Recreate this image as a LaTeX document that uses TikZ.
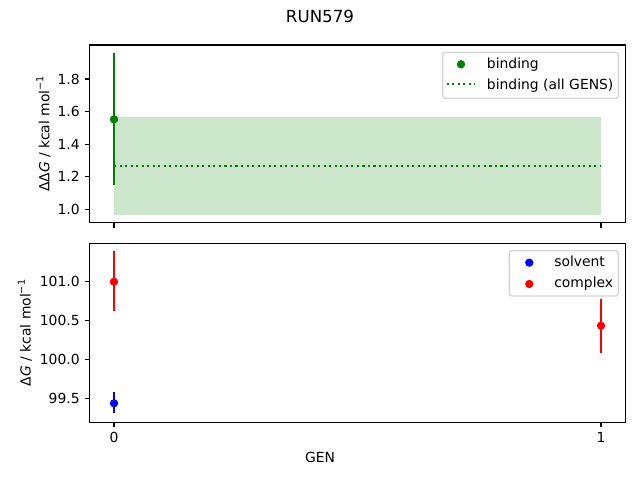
\documentclass[tikz,border=0pt]{standalone}
\usepackage{fontspec}
\setmainfont{DejaVu Sans}
\usepackage{tikz}
\definecolor{mplgreen}{HTML}{008000}
\definecolor{mplblue}{HTML}{0000FF}
\definecolor{mplred}{HTML}{FF0000}
\definecolor{legendedge}{HTML}{CCCCCC}
\newcommand{\perunit}{kcal mol\raisebox{0.42em}{\fontsize{7}{8}\selectfont −1}}
\tikzset{%
    axesframe/.style={line width=0.8pt, line join=miter},
    tickline/.style={line width=0.8pt},
    errbar/.style={line width=1.5pt, draw=#1},
    datadot/.style={fill=#1, draw=none},
    dottedline/.style={line width=1.5pt, draw=mplgreen, dash pattern=on 1.5pt off 2.475pt},
    legendbox/.style={draw=legendedge, fill=white, fill opacity=0.8, draw opacity=0.8,
        rounded corners=2pt, line width=1pt},
    ticklabel/.style={font=\fontsize{10}{12}\selectfont, inner sep=0pt},
}

\begin{document}
\begin{tikzpicture}[x=0.72pt, y=-0.72pt]
\useasboundingbox (0,0) rectangle (640,480);
\node[font=\fontsize{12}{14}\selectfont, inner sep=0pt] (title) at (320,16.7) {RUN579};

	% top panel: binding
	\begin{scope}
	\fill[mplgreen, fill opacity=0.2] (114,117.3) rectangle (601,215.0);
	\draw[dottedline] (114,166.2) -- (601,166.2);
	\draw[errbar=mplgreen] (114,53.3) -- (114,185.3);
	\fill[datadot=mplgreen] (114,119.3) circle (3pt);
	\draw[axesframe] (89.6,45) rectangle (625.4,222.7);
	\foreach \y/\lab [count=\i] in {209.3/1.0,176.7/1.2,144.2/1.4,111.6/1.6,79.0/1.8}{
		\draw[tickline] (89.6,\y) -- ++(-4.86,0);
		\node[ticklabel, anchor=east] (ytop\i) at (79.9,\y) {\lab};
	}
	\foreach \x in {114,601}
		\draw[tickline] (\x,222.7) -- ++(0,4.86);
	\end{scope}
\node[ticklabel, rotate=90] (ylabtop) at (43.5,134) {ΔΔ\textit{G} / \perunit};
% legend top
\draw[legendbox] (442.7,52.3) rectangle (618.3,98.3);
\fill[datadot=mplgreen] (461,64.3) circle (3pt);
\draw[dottedline] (446.7,84.3) -- (475,84.3);
\node[ticklabel, anchor=base west] (legbind) at (486.7,68.3) {binding};
\node[ticklabel, anchor=base west] (legall) at (486.7,89.3) {binding (all GENS)};

	% bottom panel: solvent and complex
	\begin{scope}
	\draw[errbar=mplblue] (114,392.3) -- (114,413.3);
	\fill[datadot=mplblue] (114,403.3) circle (3pt);
	\draw[errbar=mplred] (114,250.7) -- (114,310.7);
	\fill[datadot=mplred] (114,281.7) circle (3pt);
	\draw[errbar=mplred] (601,298.7) -- (601,352.7);
	\fill[datadot=mplred] (601,325.7) circle (3pt);
	\draw[axesframe] (89.6,243.3) rectangle (625.4,422.3);
	\foreach \y/\lab [count=\i] in {398.3/99.5,359.3/100.0,320.5/100.5,281.7/101.0}{
		\draw[tickline] (89.6,\y) -- ++(-4.86,0);
		\node[ticklabel, anchor=east] (ybot\i) at (79.9,\y) {\lab};
	}
	\foreach \x/\lab [count=\i] in {114/0,601/1}{
		\draw[tickline] (\x,422.3) -- ++(0,4.86);
		\node[ticklabel, anchor=north] (xbot\i) at (\x,432.3) {\lab};
	}
	\end{scope}
\node[ticklabel, rotate=90] (ylabbot) at (24.8,333) {Δ\textit{G} / \perunit};
\node[ticklabel] (xlab) at (320,457) {GEN};
% legend bottom
\draw[legendbox] (509.3,250.7) rectangle (618.3,296);
\fill[datadot=mplblue] (529.3,262.7) circle (3pt);
\fill[datadot=mplred] (529.3,284) circle (3pt);
\node[ticklabel, anchor=base west] (legsolv) at (554,266.7) {solvent};
\node[ticklabel, anchor=base west] (legcplx) at (554,287.3) {complex};
\end{tikzpicture}
\end{document}
